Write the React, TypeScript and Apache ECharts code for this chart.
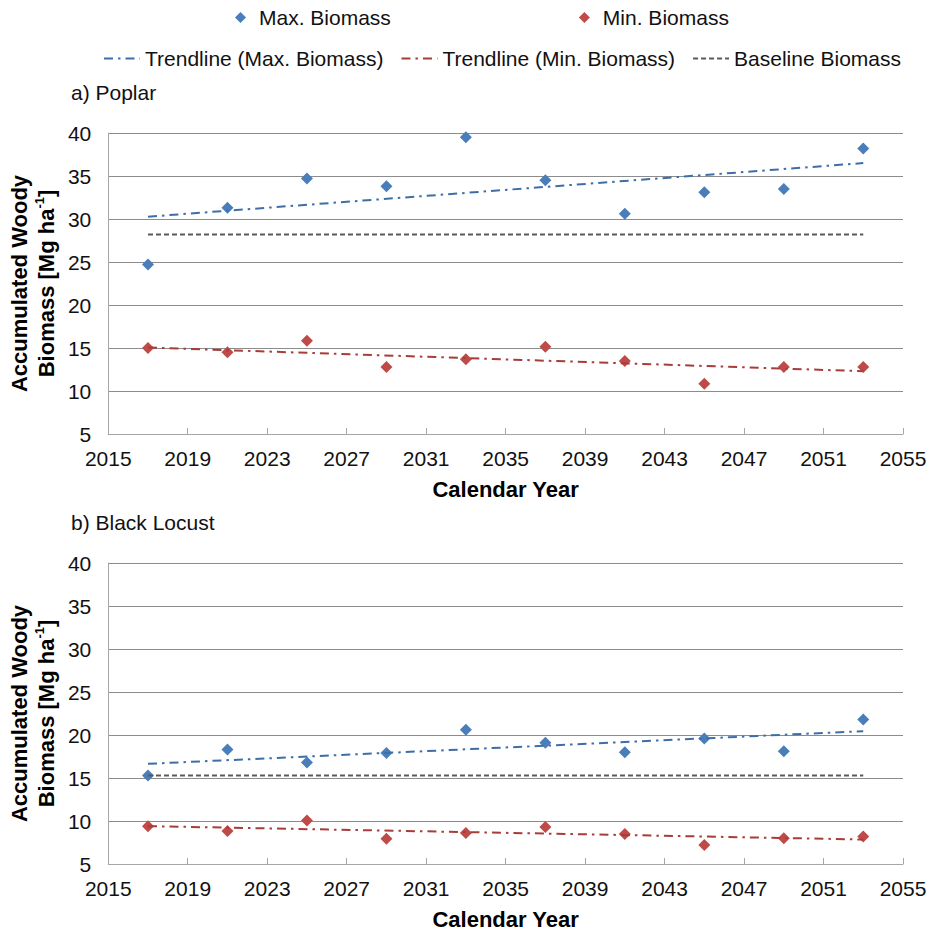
import React, { useEffect, useRef } from "react";
import * as echarts from "echarts";

const years = [2017, 2021, 2025, 2029, 2033, 2037, 2041, 2045, 2049, 2053];
const poplarMax = [24.7, 31.3, 34.7, 33.8, 39.5, 34.5, 30.6, 33.1, 33.5, 38.2];
const poplarMin = [15.0, 14.5, 15.85, 12.8, 13.7, 15.15, 13.5, 10.85, 12.8, 12.8];
const locustMax = [15.3, 18.3, 16.8, 17.9, 20.6, 19.1, 18.0, 19.6, 18.1, 21.8];
const locustMin = [9.4, 8.85, 10.05, 7.95, 8.6, 9.3, 8.5, 7.2, 8.0, 8.2];

const trendYears = [2017, 2053];
const poplarTrendMax = [30.27, 36.5];
const poplarTrendMin = [15.05, 12.3];
const poplarBaseline = [28.2, 28.2];
const locustTrendMax = [16.65, 20.45];
const locustTrendMin = [9.4, 7.85];
const locustBaseline = [15.3, 15.3];

const panelTitles = ["a) Poplar", "b) Black Locust"];
const xName = "Calendar Year";

const FONT = "'Liberation Sans', Arial, Helvetica, sans-serif";
const BLUE = "#4a7ebb";
const RED = "#be4b48";
const TBLUE = "#3d6ea8";
const TRED = "#a83c3a";
const GRAY = "#5a5a5a";

const zip = (xs: number[], ys: number[]) => xs.map((x, i) => [x, ys[i]]);

export default function App() {
  const ref = useRef<HTMLDivElement>(null);
  useEffect(() => {
    document.body.style.margin = "0";
    if (!ref.current) return;
    const chart = echarts.init(ref.current, undefined, { renderer: "svg" });

    const grids = [
      { left: 103, top: 133, width: 800, height: 301 },
      { left: 103, top: 563, width: 800, height: 302 },
    ];

    const xAxes = [0, 1].map((i) => ({
      type: "value",
      gridIndex: i,
      min: 2015,
      max: 2055,
      interval: 4,
      name: xName,
      nameLocation: "middle",
      nameGap: 44,
      nameTextStyle: { fontSize: 22, fontWeight: "bold", color: "#000", fontFamily: FONT },
      axisLine: { show: true, lineStyle: { color: "#a6a6a6", width: 1 } },
      axisTick: { show: true, inside: true, length: 6, lineStyle: { color: "#a6a6a6" } },
      axisLabel: { fontSize: 21, color: "#111", margin: 14, fontFamily: FONT, formatter: (v: number) => String(v) },
      splitLine: { show: false },
    }));

    const yAxes = [0, 1].map((i) => ({
      type: "value",
      gridIndex: i,
      min: 5,
      max: 40,
      interval: 5,
      name: "{a|Accumulated Woody}\n{a|Biomass [Mg ha}{s|-1}{a|]}",
      nameLocation: "middle",
      nameRotate: 90,
      nameGap: 42,
      nameTextStyle: {
        fontFamily: FONT,
        rich: {
          a: { fontSize: 22, fontWeight: "bold", color: "#000", lineHeight: 27, fontFamily: FONT },
          s: { fontSize: 13, fontWeight: "bold", color: "#000", verticalAlign: "top", lineHeight: 27, fontFamily: FONT },
        },
      },
      axisLine: { show: true, lineStyle: { color: "#a6a6a6", width: 1 } },
      axisTick: { show: false },
      axisLabel: { fontSize: 21, color: "#111", margin: 17, fontFamily: FONT },
      splitLine: { show: true, lineStyle: { color: "#8c8c8c", width: 1 } },
    }));

    const scatter = (name: string, i: number, data: number[][], color: string) => ({
      name,
      type: "scatter",
      xAxisIndex: i,
      yAxisIndex: i,
      symbol: "diamond",
      symbolSize: 12,
      itemStyle: { color, opacity: 1 },
      data,
      z: 2,
    });

    const line = (name: string, i: number, data: number[][], color: string, dash: number[], width: number) => ({
      name,
      type: "line",
      xAxisIndex: i,
      yAxisIndex: i,
      symbol: "none",
      showSymbol: false,
      lineStyle: { color, width, type: dash },
      itemStyle: { color },
      data,
      z: 3,
    });

    const dashDot = [9, 5, 2.5, 5];
    const dashed = [5, 3];

    const series: any[] = [];
    const sets = [
      [poplarMax, poplarMin, poplarTrendMax, poplarTrendMin, poplarBaseline],
      [locustMax, locustMin, locustTrendMax, locustTrendMin, locustBaseline],
    ];
    sets.forEach((s, i) => {
      series.push(scatter("Max. Biomass", i, zip(years, s[0]), BLUE));
      series.push(scatter("Min. Biomass", i, zip(years, s[1]), RED));
      series.push(line("Trendline (Max. Biomass)", i, zip(trendYears, s[2]), TBLUE, dashDot, 2));
      series.push(line("Trendline (Min. Biomass)", i, zip(trendYears, s[3]), TRED, dashDot, 2));
      series.push(line("Baseline Biomass", i, zip(trendYears, s[4]), GRAY, dashed, 2));
    });

    chart.setOption({
      animation: false,
      textStyle: { fontFamily: FONT },
      legend: [
        {
          data: [
            { name: "Max. Biomass", icon: "diamond" },
            { name: "Min. Biomass", icon: "diamond" },
          ],
          left: 230,
          top: 2,
          itemWidth: 11,
          itemHeight: 11,
          itemGap: 188,
          selectedMode: false,
          textStyle: { fontSize: 21, color: "#111", fontFamily: FONT, padding: [0, 0, 0, 8] },
        },
        {
          data: ["Trendline (Max. Biomass)", "Trendline (Min. Biomass)", "Baseline Biomass"],
          left: 98,
          top: 43,
          itemWidth: 36,
          itemHeight: 11,
          itemGap: 17,
          selectedMode: false,
          itemStyle: { opacity: 0 },
          textStyle: { fontSize: 21, color: "#111", fontFamily: FONT },
        },
      ],
      grid: grids,
      xAxis: xAxes,
      yAxis: yAxes,
      series,
      graphic: panelTitles.map((t, i) => ({
        type: "text",
        left: 71,
        top: i === 0 ? 82 : 512,
        style: { text: t, fontSize: 21, fill: "#111", fontFamily: FONT },
      })),
    });

    return () => chart.dispose();
  }, []);

  return <div ref={ref} style={{ width: 930, height: 931 }} />;
}
